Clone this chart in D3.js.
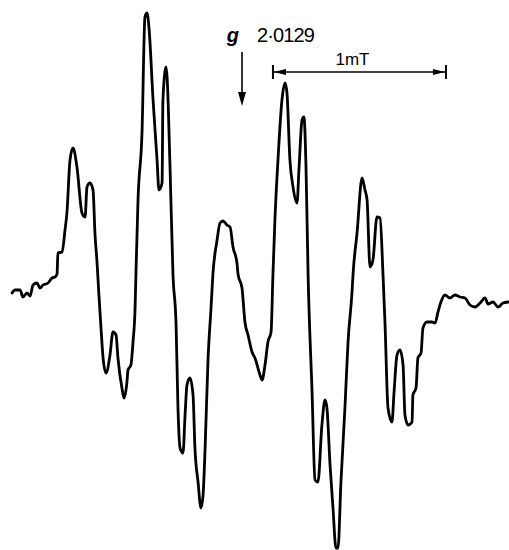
<!DOCTYPE html>
<html>
<head>
<meta charset="utf-8">
<script src="https://cdn.jsdelivr.net/npm/d3@7"></script>
<style>
  html, body { margin: 0; padding: 0; background: #fff; }
  svg { display: block; }
</style>
</head>
<body>
<div id="chart"></div>
<script>
// ESR spectrum: field offset in mT, signal in arbitrary units
const field = [
    0.012, 0.029, 0.058, 0.075, 0.098, 0.116, 0.133, 0.156, 0.173, 0.191,
    0.220, 0.243, 0.260, 0.272, 0.277, 0.301, 0.318, 0.329, 0.347, 0.364,
    0.387, 0.416, 0.434, 0.445, 0.462, 0.480, 0.491, 0.503, 0.514, 0.526,
    0.538, 0.555, 0.578, 0.595, 0.613, 0.624, 0.647, 0.659, 0.676, 0.682,
    0.699, 0.711, 0.723, 0.728, 0.740, 0.763, 0.780, 0.792, 0.803, 0.827,
    0.850, 0.861, 0.879, 0.884, 0.902, 0.908, 0.925, 0.942, 0.960, 0.971,
    0.983, 1.000, 1.012, 1.023, 1.040, 1.058, 1.069, 1.087, 1.104, 1.116,
    1.127, 1.145, 1.162, 1.173, 1.197, 1.214, 1.231, 1.254, 1.272, 1.289,
    1.312, 1.318, 1.341, 1.358, 1.376, 1.399, 1.416, 1.445, 1.457, 1.474,
    1.491, 1.509, 1.520, 1.532, 1.549, 1.572, 1.590, 1.601, 1.618, 1.636,
    1.659, 1.671, 1.688, 1.699, 1.711, 1.723, 1.746, 1.763, 1.780, 1.803,
    1.821, 1.832, 1.850, 1.867, 1.884, 1.896, 1.913, 1.936, 1.954, 1.977,
    1.983, 2.006, 2.035, 2.052, 2.064, 2.081, 2.098, 2.121, 2.139, 2.156,
    2.168, 2.185, 2.208, 2.220, 2.237, 2.254, 2.272, 2.283, 2.301, 2.324,
    2.329, 2.347, 2.358, 2.376, 2.387, 2.410, 2.439, 2.457, 2.474, 2.491,
    2.514, 2.543, 2.572, 2.601, 2.630, 2.659, 2.688, 2.717, 2.746, 2.763,
    2.792, 2.821, 2.850, 2.879
];
const signal = [
    -1, 2, 2, -5, -1, -4, 7, 9, 4, 7,
    9, 14, 15, 18, 39, 40, 62, 79, 132, 144,
    125, 79, 75, 105, 109, 102, 59, 30, -3, -36,
    -66, -81, -63, -40, -43, -66, -96, -106, -90, -78,
    -73, -50, -16, 18, 92, 159, 275, 279, 265, 192,
    132, 102, 109, 192, 225, 215, 125, 18, -33, -116,
    -156, -161, -123, -93, -86, -103, -156, -190, -216, -203,
    -160, -66, -16, 18, 52, 69, 71, 67, 65, 45,
    29, 18, 4, -30, -43, -60, -66, -83, -88, -73,
    -50, -40, 18, 75, 132, 192, 209, 199, 132, 105,
    89, 125, 172, 175, 125, 18, -100, -188, -190, -133,
    -108, -116, -173, -216, -256, -256, -190, -116, -50, 0,
    18, 59, 114, 102, 92, 25, 32, 75, 74, 18,
    -33, -116, -130, -100, -63, -58, -73, -123, -133, -130,
    -103, -96, -66, -61, -36, -30, -30, -31, -20, -10,
    -3, -6, -3, -5, -6, -13, -15, -11, -6, -12,
    -10, -15, -11, -10
];

// annotations
const gLabel = "2·0129";
const gField = 1.341;
const scaleBar = [1.520, 2.520];
const scaleLabel = "1mT";

const width = 509;
const height = 550;

const svg = d3.select("#chart")
    .append("svg")
    .attr("width", width)
    .attr("height", height);

// 1 mT = 173 px on the original trace
const x = d3.scaleLinear()
    .domain([0, 2.9])
    .range([10, 10 + 2.9 * 173]);
const y = d3.scaleLinear()
    .domain([-258, 292])
    .range([height, 0]);

const points = field.map((f, i) => [f, signal[i]]);

const line = d3.line()
    .x(d => x(d[0]))
    .y(d => y(d[1]))
    .curve(d3.curveMonotoneX);

svg.append("path")
    .datum(points)
    .attr("d", line)
    .attr("fill", "none")
    .attr("stroke", "#000")
    .attr("stroke-width", 2.8)
    .attr("stroke-linejoin", "round")
    .attr("stroke-linecap", "round");

// g-value marker
const gx = x(gField);
svg.append("text")
    .attr("x", gx - 3)
    .attr("y", 42)
    .attr("text-anchor", "end")
    .attr("font-family", "Liberation Sans, Arial, sans-serif")
    .attr("font-style", "italic")
    .attr("font-weight", "bold")
    .attr("font-size", 20)
    .text("g");
svg.append("text")
    .attr("x", gx + 15)
    .attr("y", 42)
    .attr("font-family", "Liberation Sans, Arial, sans-serif")
    .attr("font-size", 20)
    .attr("textLength", 58)
    .text(gLabel);
svg.append("line")
    .attr("x1", gx).attr("x2", gx)
    .attr("y1", 52).attr("y2", 95)
    .attr("stroke", "#000")
    .attr("stroke-width", 1.6);
svg.append("path")
    .attr("d", `M${gx - 4},92 L${gx + 4},92 L${gx},106 Z`)
    .attr("fill", "#000");

// 1 mT scale bar
const bx0 = x(scaleBar[0]);
const bx1 = x(scaleBar[1]);
const by = 72;
svg.append("line")
    .attr("x1", bx0).attr("x2", bx1)
    .attr("y1", by).attr("y2", by)
    .attr("stroke", "#000")
    .attr("stroke-width", 1.4);
[bx0, bx1].forEach(bx => {
    svg.append("line")
        .attr("x1", bx).attr("x2", bx)
        .attr("y1", by - 7).attr("y2", by + 7)
        .attr("stroke", "#000")
        .attr("stroke-width", 2);
});
svg.append("path")
    .attr("d", `M${bx0 + 1},${by} L${bx0 + 13},${by - 3} L${bx0 + 13},${by + 3} Z`)
    .attr("fill", "#000");
svg.append("path")
    .attr("d", `M${bx1 - 1},${by} L${bx1 - 13},${by - 3} L${bx1 - 13},${by + 3} Z`)
    .attr("fill", "#000");
svg.append("text")
    .attr("x", (bx0 + bx1) / 2 - 7)
    .attr("y", 65)
    .attr("text-anchor", "middle")
    .attr("font-family", "Liberation Sans, Arial, sans-serif")
    .attr("font-size", 17)
    .text(scaleLabel);
</script>
</body>
</html>
